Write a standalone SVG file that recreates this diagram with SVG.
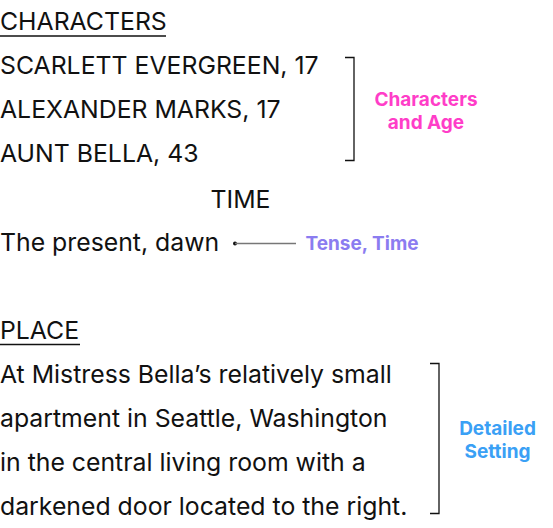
<svg xmlns="http://www.w3.org/2000/svg" width="553" height="528" viewBox="0 0 553 528">
<style>
.t{font-family:Inter,"Noto Sans","Liberation Sans",sans-serif;font-size:24.8px;fill:#111}
.l{font-family:Inter,"Noto Sans","Liberation Sans",sans-serif;font-size:19px;font-weight:700;text-anchor:middle}
.ls{text-anchor:start}
.ul{stroke:#111;stroke-width:1.5}
.br{fill:none;stroke:#111;stroke-width:1.3}
</style>
<rect width="553" height="528" fill="#fff"/>
<g id="characters">
<text class="t" x="0" y="30">CHARACTERS</text>
<line class="ul" x1="0" y1="36" x2="166" y2="36"/>
<text class="t" x="0" y="74">SCARLETT EVERGREEN, 17</text>
<text class="t" x="0" y="118">ALEXANDER MARKS, 17</text>
<text class="t" x="0" y="162">AUNT BELLA, 43</text>
</g>
<g id="time">
<text class="t" x="240.5" y="207.5" text-anchor="middle">TIME</text>
<text class="t" x="0" y="251">The present, dawn</text>
</g>
<g id="place">
<text class="t" x="0" y="338.5">PLACE</text>
<line class="ul" x1="0" y1="344.5" x2="80" y2="344.5"/>
<text class="t" x="0" y="382.7">At Mistress Bella’s relatively small</text>
<text class="t" x="0" y="426.7">apartment in Seattle, Washington</text>
<text class="t" x="0" y="470.7">in the central living room with a</text>
<text class="t" x="0" y="514.7">darkened door located to the right.</text>
</g>
<g id="connectors">
<path class="br" d="M345,57.5 H354 V160.5 H345"/>
<circle cx="235" cy="243.5" r="2" fill="#111"/>
<line x1="235" y1="243.5" x2="296" y2="243.5" stroke="#777" stroke-width="1.3"/>
<path class="br" d="M430,363.5 H439 V513.5 H430"/>
</g>
<g id="label-characters">
<text class="l" fill="#ff3dc8"><tspan x="426" y="105.5">Characters</tspan><tspan x="426" y="128.5">and Age</tspan></text>
</g>
<g id="label-time">
<text class="l ls" x="305.5" y="250" fill="#8b7cf0">Tense, Time</text>
</g>
<g id="label-setting">
<text class="l" fill="#3aa0f5"><tspan x="497.5" y="435">Detailed</tspan><tspan x="497.5" y="458">Setting</tspan></text>
</g>
</svg>
